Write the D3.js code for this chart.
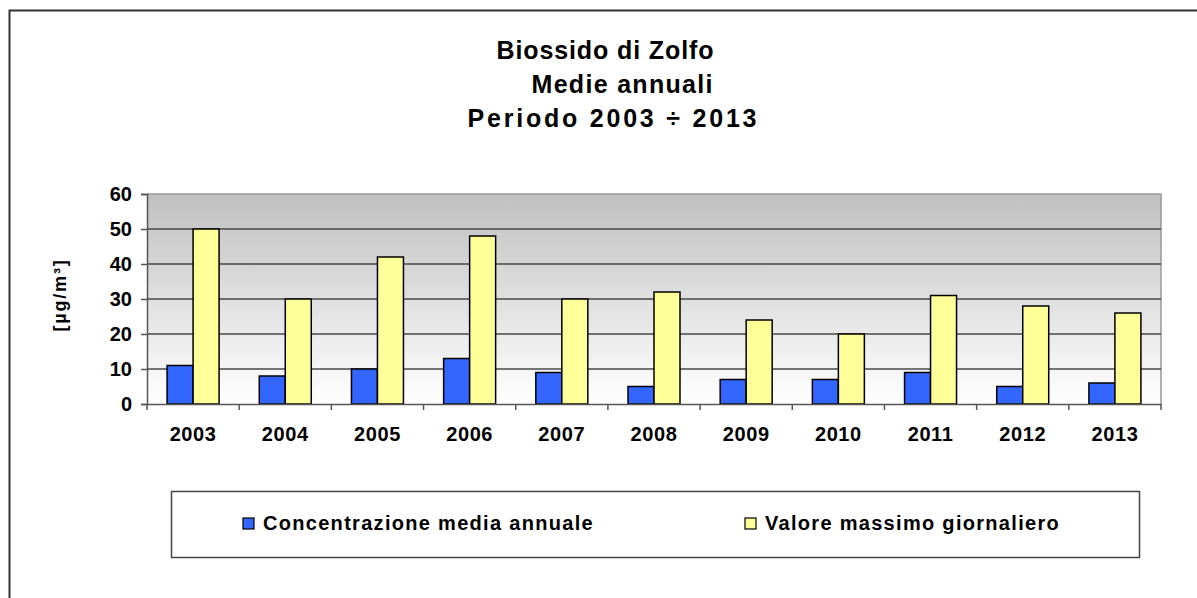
<!DOCTYPE html>
<html>
<head>
<meta charset="utf-8">
<script src="https://cdn.jsdelivr.net/npm/d3@7"></script>
<style>
  body { margin: 0; background: #fff; }
  svg { display: block; font-family: "Liberation Sans", Arial, sans-serif; }
</style>
</head>
<body>
<svg id="chart" width="1197" height="598"></svg>
<script>
const years = ["2003", "2004", "2005", "2006", "2007", "2008", "2009", "2010", "2011", "2012", "2013"];
const mediaAnnuale = [11, 8, 10, 13, 9, 5, 7, 7, 9, 5, 6];
const massimoGiornaliero = [50, 30, 42, 48, 30, 32, 24, 20, 31, 28, 26];
const seriesNames = ["Concentrazione media annuale", "Valore massimo giornaliero"];
const seriesColors = ["#3366ff", "#ffff99"];
const yTicks = [0, 10, 20, 30, 40, 50, 60];
const titleLines = ["Biossido di Zolfo", "Medie annuali", "Periodo 2003 \u00f7 2013"];

const svg = d3.select("#chart");

// outer chart frame
svg.append("rect")
  .attr("x", 9.5).attr("y", 10.5)
  .attr("width", 1200).attr("height", 600)
  .attr("fill", "#fff").attr("stroke", "#333").attr("stroke-width", 2);

// title (each line sits a little differently in the original)
const titleCenters = [605, 622, 612];
const titleWidths = [217, 181, 289];
svg.append("g").selectAll("text")
  .data(titleLines)
  .enter().append("text")
  .attr("x", (d, i) => titleCenters[i])
  .attr("y", (d, i) => 59 + i * 34)
  .attr("text-anchor", "middle")
  .attr("font-size", 25)
  .attr("font-weight", "bold")
  .attr("textLength", (d, i) => titleWidths[i])
  .attr("lengthAdjust", "spacing")
  .text(d => d);

const margin = { top: 194, left: 147 };
const width = 1161 - 147;
const height = 404 - 194;

const g = svg.append("g").attr("transform", `translate(${margin.left}, ${margin.top})`);

const x0 = d3.scaleBand().domain(years).range([0, width]).paddingInner(0.436).paddingOuter(0.218);
const x1 = d3.scaleBand().domain([0, 1]).range([0, x0.bandwidth()]);
const y = d3.scaleLinear().domain([0, 60]).range([height, 0]);

const grad = svg.append("defs").append("linearGradient")
  .attr("id", "bg").attr("x1", 0).attr("y1", 0).attr("x2", 0).attr("y2", 1);
grad.append("stop").attr("offset", "0%").attr("stop-color", "#c0c0c0");
grad.append("stop").attr("offset", "100%").attr("stop-color", "#ffffff");

g.append("rect")
  .attr("width", width).attr("height", height)
  .attr("fill", "url(#bg)");

// plot frame top / right
g.append("path")
  .attr("d", `M0,0H${width}V${height}`)
  .attr("fill", "none").attr("stroke", "#999").attr("stroke-width", 1.5);

// gridlines
g.append("g").selectAll("line")
  .data(yTicks.filter(t => t > 0 && t < 60))
  .enter().append("line")
  .attr("x1", 0).attr("x2", width)
  .attr("y1", d => y(d)).attr("y2", d => y(d))
  .attr("stroke", "#484848").attr("stroke-width", 1.3);

// y axis
const yAxis = g.append("g").attr("class", "axis-y")
  .call(d3.axisLeft(y).tickValues(yTicks).tickSize(6).tickPadding(9));
yAxis.select(".domain").attr("stroke", "#555").attr("stroke-width", 1.5);
yAxis.selectAll(".tick line").attr("stroke", "#555").attr("stroke-width", 1.5);
yAxis.selectAll("text")
  .attr("font-size", 20).attr("font-weight", "bold").attr("fill", "#000")
  .attr("font-family", "Liberation Sans, Arial, sans-serif");

// bars
const groups = g.selectAll(".year")
  .data(years)
  .enter().append("g")
  .attr("class", "year")
  .attr("transform", d => `translate(${x0(d)}, 0)`);

groups.selectAll("rect")
  .data((d, i) => [mediaAnnuale[i], massimoGiornaliero[i]])
  .enter().append("rect")
  .attr("x", (d, j) => x1(j))
  .attr("y", d => y(d))
  .attr("width", x1.bandwidth())
  .attr("height", d => height - y(d))
  .attr("fill", (d, j) => seriesColors[j])
  .attr("stroke", "#000").attr("stroke-width", 1.5);

// x axis
const xAxis = g.append("g").attr("class", "axis-x")
  .attr("transform", `translate(0, ${height})`)
  .call(d3.axisBottom(x0).tickSize(0).tickPadding(23));
xAxis.select(".domain").attr("stroke", "#555").attr("stroke-width", 1.5);
xAxis.selectAll("text")
  .attr("font-size", 20).attr("font-weight", "bold").attr("fill", "#000")
  .attr("letter-spacing", 0.6)
  .attr("font-family", "Liberation Sans, Arial, sans-serif");
xAxis.selectAll(".sep")
  .data(d3.range(years.length + 1))
  .enter().append("line")
  .attr("class", "sep")
  .attr("x1", i => i * x0.step()).attr("x2", i => i * x0.step())
  .attr("y1", 0).attr("y2", 6)
  .attr("stroke", "#555").attr("stroke-width", 1.5);

// y label
svg.append("text")
  .attr("transform", "translate(66, 295) rotate(-90)")
  .attr("text-anchor", "middle")
  .attr("font-size", 18)
  .attr("font-weight", "bold")
  .attr("letter-spacing", 1.8)
  .text("[\u00b5g/m\u00b3]");

// legend
const legend = svg.append("g");
legend.append("rect")
  .attr("x", 171.5).attr("y", 491.5)
  .attr("width", 968).attr("height", 66)
  .attr("fill", "#fff").attr("stroke", "#444").attr("stroke-width", 1.5);

const legendX = [243, 745];
const items = legend.selectAll(".item")
  .data(seriesNames)
  .enter().append("g")
  .attr("class", "item")
  .attr("transform", (d, i) => `translate(${legendX[i]}, 518)`);
items.append("rect")
  .attr("width", 11).attr("height", 11)
  .attr("fill", (d, i) => seriesColors[i])
  .attr("stroke", "#000").attr("stroke-width", 1.2);
items.append("text")
  .attr("x", 20).attr("y", 12)
  .attr("font-size", 20).attr("font-weight", "bold")
  .attr("letter-spacing", 1.3)
  .text(d => d);
</script>
</body>
</html>
